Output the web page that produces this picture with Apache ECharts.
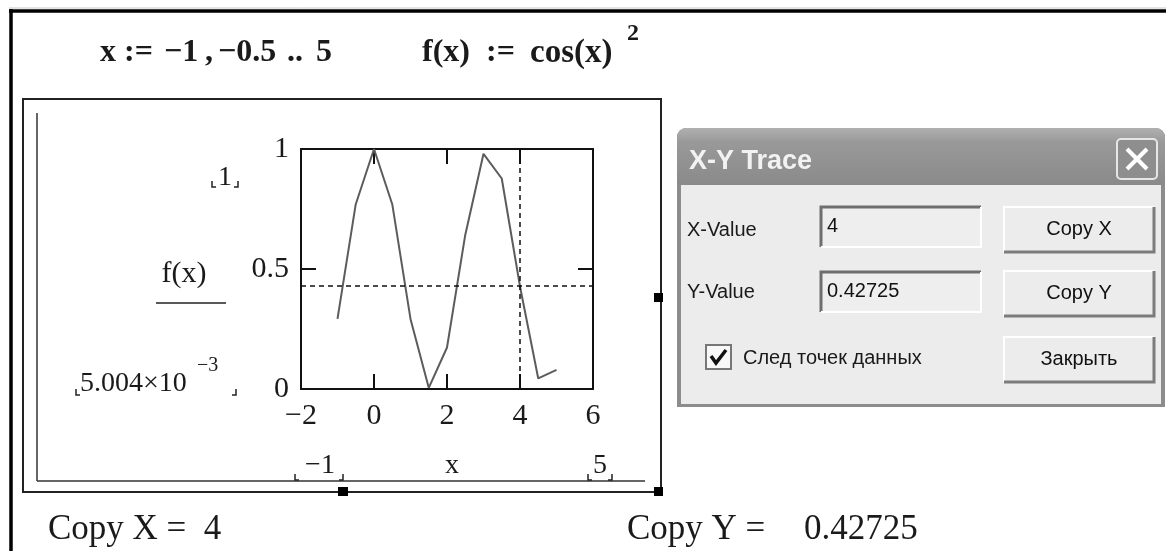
<!DOCTYPE html>
<html>
<head>
<meta charset="utf-8">
<script src="https://cdn.jsdelivr.net/npm/echarts@6/dist/echarts.min.js"></script>
<style>
  html, body { margin: 0; padding: 0; background: #fff; }
  #chart { width: 1166px; height: 551px; }
</style>
</head>
<body>
<div id="chart"></div>
<script>
// data: x := -1, -0.5 .. 5, f(x) = cos(x)^2
const xValues = [-1, -0.5, 0, 0.5, 1, 1.5, 2, 2.5, 3, 3.5, 4, 4.5, 5]
const fValues = [0.292, 0.770, 1.0, 0.770, 0.292, 0.005, 0.173, 0.642, 0.980, 0.877, 0.427, 0.044, 0.080]

// trace cursor
const traceX = 4
const traceY = 0.42725

// axis settings
const xTicks = { min: -2, max: 6, interval: 2 }
const yTicks = { min: 0, max: 1, interval: 0.5 }

// range placeholders shown around the plot
const rangeXLow = '\u22121'
const rangeXHigh = '5'
const rangeYHigh = '1'
const rangeYLow = '5.004\u00d710'
const rangeYLowExp = '\u22123'

const serif = '"Liberation Serif", "Times New Roman", serif'
const sans = '"Liberation Sans", Arial, sans-serif'

const chart = echarts.init(document.getElementById('chart'))

function txt(x, y, text, opts = {}) {
  return {
    type: 'text',
    z: opts.z || 10,
    style: {
      x, y, text,
      font: opts.font || ('30px ' + serif),
      fill: opts.fill || '#1a1a1a',
      align: opts.align || 'left',
      textAlign: opts.align || 'left',
      verticalAlign: opts.va || 'middle',
      textVerticalAlign: opts.va || 'middle',
    },
  }
}

function line(x1, y1, x2, y2, color = '#111', w = 2) {
  return { type: 'line', z: 5, shape: { x1, y1, x2, y2 }, style: { stroke: color, lineWidth: w } }
}

function poly(points, color, w, z = 12) {
  return { type: 'polyline', z, shape: { points }, style: { stroke: color, lineWidth: w, fill: null } }
}

function rect(x, y, width, height, fill, extra = {}) {
  return Object.assign({ type: 'rect', z: 8, shape: { x, y, width, height }, style: { fill } }, extra)
}

// little Mathcad corner brackets under a placeholder
function brackets(l, r, b) {
  return [
    poly([[l, b - 6], [l, b], [l + 4, b]], '#222', 1.5),
    poly([[r - 4, b], [r, b], [r, b - 6]], '#222', 1.5),
  ]
}

function button(x, y, w, h, label) {
  return [
    rect(x, y, w, h, '#ececec', { z: 20 }),
    poly([[x, y + h], [x, y], [x + w, y]], '#ffffff', 2, 23),
    poly([[x + w, y], [x + w, y + h], [x, y + h]], '#7c7c7c', 3, 23),
    txt(x + w / 2, y + h / 2, label, { font: '20px ' + sans, align: 'center', fill: '#111', z: 24 }),
  ]
}

function inputBox(x, y, w, h, value) {
  return [
    rect(x, y, w, h, '#eeeeee', { z: 20 }),
    poly([[x, y + h], [x, y], [x + w, y]], '#6e6e6e', 3, 23),
    poly([[x + w, y], [x + w, y + h], [x, y + h]], '#ffffff', 2, 23),
    txt(x + 6, y + 19, value, { font: '20px ' + sans, fill: '#111', z: 24 }),
  ]
}

const dialog = [
  rect(677, 128, 488, 279, '#8c8c8c', { z: 18, shape: { x: 677, y: 128, width: 488, height: 279, r: [9, 9, 0, 0] } }),
  {
    type: 'rect', z: 19,
    shape: { x: 677, y: 128, width: 488, height: 57, r: [9, 9, 0, 0] },
    style: {
      fill: new echarts.graphic.LinearGradient(0, 0, 0, 1, [
        { offset: 0, color: '#b0b0b0' },
        { offset: 0.25, color: '#999999' },
        { offset: 1, color: '#8a8a8a' },
      ]),
    },
  },
  rect(681, 185, 480, 219, '#ececec', { z: 19 }),
  txt(689, 162, 'X-Y Trace', { font: 'bold 27px ' + sans, fill: '#f2f2f2', z: 22 }),
  {
    type: 'rect', z: 21,
    shape: { x: 1117, y: 139, width: 40, height: 40, r: 4 },
    style: { fill: '#8e8e8e', stroke: '#e6e6e6', lineWidth: 2 },
  },
  poly([[1127, 149], [1147, 169]], '#ffffff', 4, 23),
  poly([[1147, 149], [1127, 169]], '#ffffff', 4, 23),
  txt(687, 230, 'X-Value', { font: '20px ' + sans, z: 22 }),
  txt(687, 292, 'Y-Value', { font: '20px ' + sans, z: 22 }),
  ...inputBox(821, 207, 160, 40, String(traceX)),
  ...inputBox(821, 272, 160, 40, String(traceY)),
  ...button(1004, 207, 150, 45, 'Copy X'),
  ...button(1004, 271, 150, 45, 'Copy Y'),
  ...button(1004, 337, 150, 45, '\u0417\u0430\u043a\u0440\u044b\u0442\u044c'),
  {
    type: 'rect', z: 21,
    shape: { x: 706, y: 345, width: 25, height: 24 },
    style: { fill: '#f8f8f8', stroke: '#777', lineWidth: 2 },
  },
  poly([[711, 356], [716, 363], [726, 350]], '#111', 3.5, 23),
  txt(743, 358, '\u0421\u043b\u0435\u0434 \u0442\u043e\u0447\u0435\u043a \u0434\u0430\u043d\u043d\u044b\u0445', { font: '20px ' + sans, z: 22 }),
]

const fFont = 'bold 32px ' + serif

const page = [
  // worksheet border
  line(9, 11, 1166, 11, '#000', 3.5),
  line(11, 9, 11, 551, '#000', 3.5),
  line(9, 8, 1166, 8, '#c8c8c8', 1),
  // plot region frame and selection handles
  { type: 'rect', z: 4, shape: { x: 23, y: 99, width: 638, height: 393 }, style: { fill: null, stroke: '#222', lineWidth: 2 } },
  rect(338, 487, 10, 9, '#000'),
  rect(654, 293, 9, 9, '#000'),
  rect(654, 487, 9, 9, '#000'),
  // outer L axes
  line(37, 113, 37, 481, '#333', 1.5),
  line(37, 481, 645, 481, '#333', 1.5),
  // formulas
  txt(100, 53, 'x', { font: fFont }),
  txt(124, 53, ':=', { font: fFont }),
  txt(164, 53, '\u22121', { font: fFont }),
  txt(205, 53, ',', { font: fFont }),
  txt(218, 53, '\u22120.5', { font: fFont }),
  txt(287, 53, '..', { font: fFont }),
  txt(316, 53, '5', { font: fFont }),
  txt(422, 53, 'f(x)', { font: fFont }),
  txt(486, 53, ':=', { font: fFont }),
  txt(530, 53, 'cos(x)', { font: 'bold 33px ' + serif }),
  txt(627, 34, '2', { font: 'bold 24px ' + serif }),
  // placeholders
  txt(225, 178, rangeYHigh, { align: 'center', font: '28px ' + serif }),
  ...brackets(212, 238, 187),
  txt(184, 274, 'f(x)', { align: 'center', font: '30px ' + serif }),
  line(156, 303, 226, 303, '#222', 1.5),
  txt(80, 384, rangeYLow, { font: '28px ' + serif }),
  txt(197, 366, rangeYLowExp, { font: '20px ' + serif }),
  ...brackets(76, 236, 395),
  txt(320, 466, rangeXLow, { align: 'center', font: '28px ' + serif }),
  ...brackets(295, 343, 480),
  txt(452, 466, 'x', { align: 'center', font: '28px ' + serif }),
  txt(600, 466, rangeXHigh, { align: 'center', font: '28px ' + serif }),
  ...brackets(588, 612, 480),
  // copied values
  txt(48, 530, 'Copy X =  ' + traceX, { font: '35px ' + serif }),
  txt(627, 530, 'Copy Y =', { font: '35px ' + serif }),
  txt(804, 530, String(traceY), { font: '35px ' + serif }),
]

const axisCommon = {
  type: 'value',
  axisLine: { show: true, onZero: false, lineStyle: { color: '#111', width: 2 } },
  axisTick: { show: true, inside: true, length: 15, lineStyle: { color: '#111', width: 2 } },
  splitLine: { show: false },
}

const labelStyle = { color: '#1a1a1a', fontFamily: serif, fontSize: 30 }

const option = {
  animation: false,
  backgroundColor: '#fff',
  grid: { left: 301, top: 149, width: 292, height: 240, show: false },
  xAxis: [
    Object.assign({}, axisCommon, xTicks, {
      position: 'bottom',
      axisLabel: Object.assign({ margin: 12, formatter: (v) => (v < 0 ? '\u2212' + -v : String(v)) }, labelStyle),
    }),
    Object.assign({}, axisCommon, xTicks, { position: 'top', axisLabel: { show: false } }),
  ],
  yAxis: [
    Object.assign({}, axisCommon, yTicks, {
      position: 'left',
      axisLabel: Object.assign({ margin: 12 }, labelStyle),
    }),
    Object.assign({}, axisCommon, yTicks, { position: 'right', axisLabel: { show: false } }),
  ],
  series: [
    {
      type: 'line',
      data: xValues.map((x, i) => [x, fValues[i]]),
      showSymbol: false,
      lineStyle: { color: '#5c5c5c', width: 2 },
      markLine: {
        silent: true,
        symbol: 'none',
        label: { show: false },
        lineStyle: { color: '#111', type: [5, 4], width: 1.5 },
        data: [{ xAxis: traceX }, { yAxis: traceY }],
      },
    },
  ],
  graphic: { elements: [...page, ...dialog] },
}

chart.setOption(option)
</script>
</body>
</html>
